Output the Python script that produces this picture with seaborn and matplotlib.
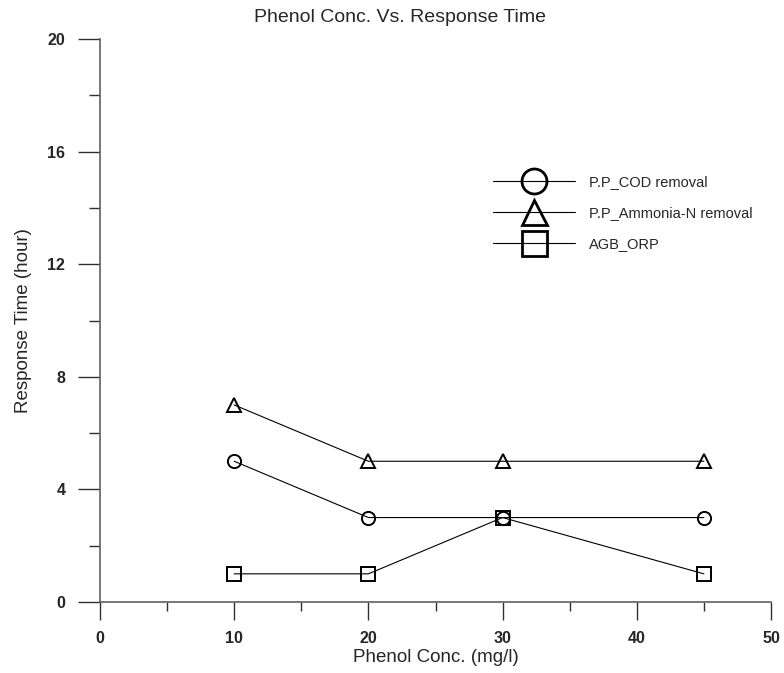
import matplotlib
matplotlib.use("Agg")
import matplotlib.pyplot as plt
from matplotlib.lines import Line2D
from matplotlib.ticker import MultipleLocator
import seaborn as sns

# data
phenol_conc = [10, 20, 30, 45]
cod_removal = [5, 3, 3, 3]
ammonia_removal = [7, 5, 5, 5]
agb_orp = [1, 1, 3, 1]

series_names = ["P.P_COD removal", "P.P_Ammonia-N removal", "AGB_ORP"]
series_values = [cod_removal, ammonia_removal, agb_orp]
series_markers = ["o", "^", "s"]

sns.set_style("white")
plt.rcParams["font.family"] = ["Liberation Sans", "DejaVu Sans"]

fig = plt.figure(figsize=(7.84, 6.73), dpi=100)
ax = fig.add_axes([100 / 784, 1 - 602 / 673, 671 / 784, 563 / 673])

for name, vals, mk in zip(series_names, series_values, series_markers):
    sns.lineplot(x=phenol_conc, y=vals, ax=ax, color="black", linewidth=0.8,
                 marker=mk, markersize=9.5, markerfacecolor="none",
                 markeredgecolor="black", markeredgewidth=1.4, legend=False)

ax.set_xlim(0, 50)
ax.set_ylim(0, 20)
ax.xaxis.set_major_locator(MultipleLocator(10))
ax.xaxis.set_minor_locator(MultipleLocator(5))
ax.yaxis.set_major_locator(MultipleLocator(4))
ax.yaxis.set_minor_locator(MultipleLocator(2))

for side in ["top", "right"]:
    ax.spines[side].set_visible(False)
for side in ["left", "bottom"]:
    ax.spines[side].set_color("#606060")
    ax.spines[side].set_linewidth(1.2)

ax.tick_params(axis="x", which="major", direction="out", length=13, width=1,
               color="#303030", pad=8, labelsize=11.5, bottom=True)
ax.tick_params(axis="x", which="minor", direction="out", length=6.5, width=1,
               color="#303030", bottom=True)
ax.tick_params(axis="y", which="major", direction="out", length=16, width=1,
               color="#303030", pad=9, labelsize=11.5, left=True)
ax.tick_params(axis="y", which="minor", direction="out", length=8, width=1,
               color="#303030", left=True)
for lbl in ax.get_xticklabels() + ax.get_yticklabels():
    lbl.set_fontweight("bold")

ax.set_xlabel("Phenol Conc. (mg/l)", fontsize=13.5, labelpad=2)
ax.set_ylabel("Response Time (hour)", fontsize=13.5, labelpad=11)
fig.text(400 / 784, 1 - 17 / 673, "Phenol Conc. Vs. Response Time",
         ha="center", va="center", fontsize=14)

handles = [Line2D([], [], color="black", linewidth=0.8, marker=mk, markersize=18,
                  markerfacecolor="none", markeredgecolor="black", markeredgewidth=2)
           for mk in series_markers]
ax.legend(handles, series_names, loc="center left",
          bbox_to_anchor=(493 / 784, 1 - 213 / 673), bbox_transform=fig.transFigure,
          frameon=False, fontsize=10.5, handlelength=5.6, handletextpad=1.0,
          labelspacing=1.15, borderpad=0, borderaxespad=0)

fig.savefig("out.png", dpi=100)
